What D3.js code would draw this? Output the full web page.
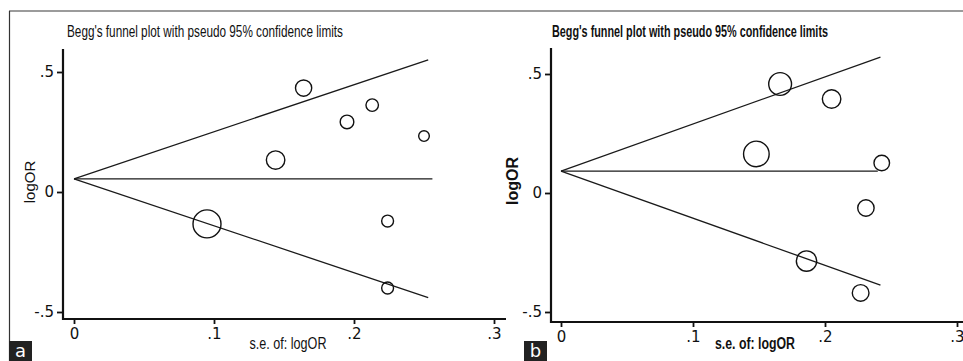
<!DOCTYPE html>
<html>
<head>
<meta charset="utf-8">
<script src="https://cdn.jsdelivr.net/npm/d3@7"></script>
<style>
  html, body { margin: 0; padding: 0; background: #fff; }
  svg { display: block; }
</style>
</head>
<body>
<svg id="chart" width="963" height="361"></svg>
<script>
// panel a: study points (standard error, log odds ratio)
const seA = [0.164, 0.195, 0.213, 0.250, 0.144, 0.095, 0.224, 0.224];
const logorA = [0.433, 0.292, 0.362, 0.233, 0.133, -0.133, -0.121, -0.400];
// pseudo 95% limits read at both ends
const funnelSeA = [0, 0.253];
const upperA = [0.055, 0.551];
const lowerA = [0.055, -0.440];
const pooledA = [0.055, 0.055];
const funnelSeMidA = [0, 0.256];

// panel b
const seB = [0.166, 0.205, 0.148, 0.243, 0.231, 0.186, 0.227];
const logorB = [0.458, 0.395, 0.164, 0.126, -0.063, -0.286, -0.420];
const funnelSeB = [0, 0.242];
const upperB = [0.092, 0.571];
const lowerB = [0.092, -0.387];
const pooledB = [0.092, 0.092];
const funnelSeMidB = [0, 0.240];

const xTicks = [0, 0.1, 0.2, 0.3];
const xTickLabels = ["0", ".1", ".2", ".3"];
const yTicks = [-0.5, 0, 0.5];
const yTickLabels = ["-.5", "0", ".5"];
const titleText = "Begg's funnel plot with pseudo 95% confidence limits";

const svg = d3.select("#chart");

// outer frame
svg.append("line").attr("x1", 9).attr("x2", 963).attr("y1", 11).attr("y2", 11)
  .attr("stroke", "#7a7a7a").attr("stroke-width", 1.5);
svg.append("line").attr("x1", 9.5).attr("x2", 9.5).attr("y1", 11).attr("y2", 361)
  .attr("stroke", "#333").attr("stroke-width", 1.2);

function drawPanel(o) {
  const g = svg.append("g");
  const x = d3.scaleLinear().domain([0, 0.3]).range(o.xRange);
  const y = d3.scaleLinear().domain([-0.5, 0.5]).range(o.yRange);
  const inv = o.se.map(s => 1 / s);
  const r = d3.scaleLinear().domain([0, d3.max(inv)]).range([0, o.rMax]);

  // axes
  const yAxis = d3.axisLeft(y).tickValues(yTicks).tickFormat((d, i) => yTickLabels[i])
    .tickSize(6).tickPadding(3);
  const xAxis = d3.axisBottom(x).tickValues(xTicks).tickFormat((d, i) => xTickLabels[i])
    .tickSize(5).tickPadding(4);

  const ya = g.append("g").attr("transform", `translate(${o.axisX},0)`).call(yAxis);
  ya.select(".domain").remove();
  const xa = g.append("g").attr("transform", `translate(0,${o.axisY})`).call(xAxis);
  xa.select(".domain").remove();
  [ya, xa].forEach(a => {
    a.selectAll("line").attr("stroke", "#111").attr("stroke-width", 1.8);
    a.selectAll("text").attr("fill", "#111")
      .style("font-family", "'DejaVu Sans', Verdana, sans-serif").style("font-size", "15px");
  });

  g.append("line").attr("x1", o.axisX).attr("x2", o.axisX).attr("y1", o.axisTop).attr("y2", o.axisY + 1)
    .attr("stroke", "#111").attr("stroke-width", 2.2);
  g.append("line").attr("x1", o.axisX - 1).attr("x2", o.axisRight).attr("y1", o.axisY).attr("y2", o.axisY)
    .attr("stroke", "#111").attr("stroke-width", 2.2);

  // funnel lines
  const line = d3.line().x(d => x(d[0])).y(d => y(d[1]));
  const fl = [
    d3.zip(o.fSe, o.upper),
    d3.zip(o.fSe, o.lower),
    d3.zip(o.fSeMid, o.pooled)
  ];
  g.selectAll("path.funnel").data(fl).join("path")
    .attr("class", "funnel")
    .attr("d", line)
    .attr("fill", "none").attr("stroke", "#1a1a1a").attr("stroke-width", 1.3);

  // study circles
  g.selectAll("circle.study").data(d3.range(o.se.length)).join("circle")
    .attr("class", "study")
    .attr("cx", i => x(o.se[i]))
    .attr("cy", i => y(o.logor[i]))
    .attr("r", i => r(inv[i]))
    .attr("fill", "none").attr("stroke", "#111").attr("stroke-width", 1.4);

  // titles
  g.append("text").attr("x", o.titleX).attr("y", 37).text(titleText)
    .attr("textLength", 276).attr("lengthAdjust", "spacingAndGlyphs")
    .style("font-family", "'Liberation Sans Narrow', 'Liberation Sans', Arial, sans-serif")
    .style("font-size", "16px").style("font-weight", o.bold ? "bold" : "normal").attr("fill", "#111");

  g.append("text").attr("x", o.xTitleX).attr("y", 349).attr("text-anchor", "middle").text("s.e. of: logOR")
    .attr("textLength", o.bold ? 80 : 77).attr("lengthAdjust", "spacingAndGlyphs")
    .style("font-family", "'Liberation Sans Narrow', 'Liberation Sans', Arial, sans-serif")
    .style("font-size", "16px").style("font-weight", o.bold ? "bold" : "normal").attr("fill", "#111");

  g.append("text")
    .attr("transform", `translate(${o.yTitleX},${o.yTitleY}) rotate(-90)`)
    .attr("text-anchor", "middle").text("logOR")
    .style("font-family", "'Liberation Sans', Arial, sans-serif")
    .style("font-size", o.bold ? "16px" : "15px").style("font-weight", o.bold ? "bold" : "normal").attr("fill", "#111");

  // panel letter
  g.append("rect").attr("x", o.tagX).attr("y", 341).attr("width", 23).attr("height", 20).attr("fill", "#222");
  g.append("text").attr("x", o.tagX + 11.5).attr("y", 357).attr("text-anchor", "middle").text(o.tag)
    .style("font-family", "'DejaVu Sans', Verdana, sans-serif").style("font-size", "18px").attr("fill", "#fff");
}

drawPanel({
  se: seA, logor: logorA, fSe: funnelSeA, upper: upperA, lower: lowerA, pooled: pooledA, fSeMid: funnelSeMidA,
  xRange: [74, 494], yRange: [312, 72], rMax: 14,
  axisX: 63, axisY: 319, axisTop: 49, axisRight: 506,
  titleX: 67, xTitleX: 288, yTitleX: 35, yTitleY: 182,
  tag: "a", tagX: 9, bold: false
});

drawPanel({
  se: seB, logor: logorB, fSe: funnelSeB, upper: upperB, lower: lowerB, pooled: pooledB, fSeMid: funnelSeMidB,
  xRange: [561, 957], yRange: [312, 74], rMax: 12.8,
  axisX: 551, axisY: 322, axisTop: 48, axisRight: 963,
  titleX: 552, xTitleX: 755, yTitleX: 518, yTitleY: 181,
  tag: "b", tagX: 524, bold: true
});
</script>
</body>
</html>
